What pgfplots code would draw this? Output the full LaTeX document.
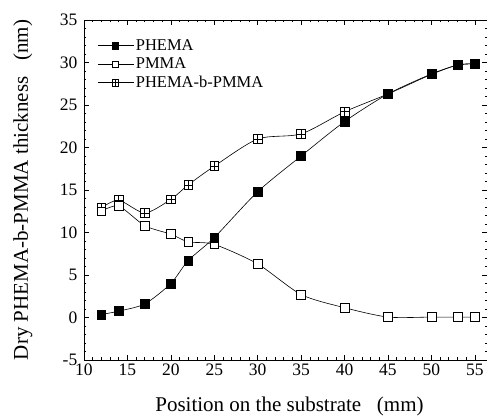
\documentclass[border=0pt]{standalone}
\usepackage{fontspec}
\setmainfont{Liberation Serif}
\usepackage{pgfplots}
\pgfplotsset{compat=1.18}
\usetikzlibrary{plotmarks}

% square with a cross inside, like the boxplus marks of the original
\pgfdeclareplotmark{boxplus}{%
  \pgfpathrectangle{\pgfpoint{-\pgfplotmarksize}{-\pgfplotmarksize}}{\pgfpoint{2\pgfplotmarksize}{2\pgfplotmarksize}}%
  \pgfusepathqfillstroke
  \pgfpathmoveto{\pgfpoint{-\pgfplotmarksize}{0pt}}\pgfpathlineto{\pgfpoint{\pgfplotmarksize}{0pt}}%
  \pgfpathmoveto{\pgfpoint{0pt}{-\pgfplotmarksize}}\pgfpathlineto{\pgfpoint{0pt}{\pgfplotmarksize}}%
  \pgfusepathqstroke}

\begin{document}
\begin{tikzpicture}
\begin{axis}[
  scale only axis,
  width=403pt, height=340pt,
  xmin=10, xmax=56.4,
  ymin=-5, ymax=35,
  xtick={10,15,...,55},
  ytick={-5,0,...,35},
  minor tick num=4,
  tick align=inside,
  major tick length=5pt, minor tick length=2.5pt,
  tick style={black, line width=0.6pt},
  axis line style={line width=0.8pt},
  font=\fontsize{17.5}{20}\selectfont,
  /pgf/number format/assume math mode=true,
  every tick label/.append style={inner sep=1pt},
  yticklabel style={xshift=-5.5pt},
  xticklabel style={yshift=-3pt},
  xlabel={Position on the substrate\hspace{0.75em}(mm)},
  ylabel={Dry PHEMA-b-PMMA thickness\hspace{0.75em}(nm)},
  every axis x label/.style={at={(axis description cs:0.5,0)}, anchor=base,
    yshift=-52pt, xshift=4pt, font=\fontsize{21}{24}\selectfont},
  every axis y label/.style={at={(axis description cs:0,0.5)}, rotate=90, anchor=base,
    yshift=56pt, font=\fontsize{21}{24}\selectfont},
  legend style={draw=none, fill=none, at={(0.025,0.955)}, anchor=north west,
    font=\fontsize{16.5}{19}\selectfont, row sep=2pt,
    nodes={inner sep=2pt}},
  legend cell align=left,
  reverse legend,
  legend image code/.code={%
    \draw[mark repeat=2,mark phase=2,mark size=3.2pt,#1]
      plot coordinates {(0pt,0pt) (18pt,0pt) (36pt,0pt)};},
  every axis plot/.append style={black, line width=0.6pt, smooth, tension=0.45,
    mark size=4.4pt, mark options={solid, line width=0.6pt}},
]
\addplot[mark=boxplus, mark options={fill=white}] coordinates {
  (12,12.9) (14,13.8) (17,12.3) (20,13.9) (22,15.6) (25,17.8) (30,21.0)
  (35,21.6) (40,24.2) (45,26.3) (50,28.6) (53,29.7) (55,29.85)};
\addplot[mark=square*, mark options={fill=white}] coordinates {
  (12,12.5) (14,13.1) (17,10.8) (20,9.8) (22,8.9) (25,8.6) (30,6.3)
  (35,2.7) (40,1.15) (45,0.05) (50,0.05) (53,0.05) (55,0.05)};
\addplot[mark=square*, mark options={fill=black}] coordinates {
  (12,0.35) (14,0.75) (17,1.6) (20,4.0) (22,6.7) (25,9.4) (30,14.8)
  (35,19.0) (40,23.05) (45,26.3) (50,28.65) (53,29.7) (55,29.85)};
\legend{PHEMA-b-PMMA, PMMA, PHEMA}
\end{axis}
\pgfresetboundingbox
\path[use as bounding box] ([xshift=-84pt,yshift=-58pt]current axis.south west)
  rectangle ([yshift=20pt]current axis.north east);
\end{tikzpicture}
\end{document}
